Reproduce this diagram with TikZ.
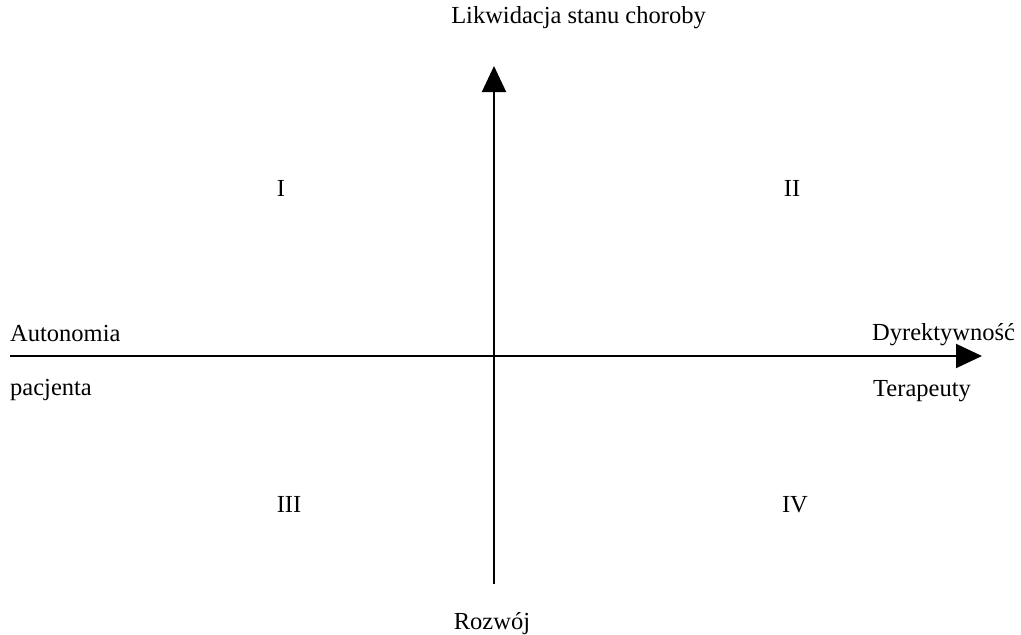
\documentclass[tikz,border=0pt]{standalone}
\usepackage{fontspec}
\setmainfont{Liberation Serif}
\usetikzlibrary{arrows.meta}
\begin{document}
\begin{tikzpicture}[x=1pt,y=-1pt,
  lbl/.style={inner sep=0pt,font=\fontsize{24.5}{29}\selectfont},
  axis/.style={line width=2pt,-{Triangle[length=26pt,width=24pt]}}]
\useasboundingbox (0,0) rectangle (1021,635);
\coordinate (left) at (10,356);
\coordinate (right) at (982,356);
\coordinate (bottom) at (494,584);
\coordinate (top) at (494,66);
\draw[axis] (left) -- (right);
\draw[axis] (bottom) -- (top);
\node[lbl,anchor=base] (title) at (578.5,23) {Likwidacja stanu choroby};
\node[lbl,anchor=base] (q1) at (281,196) {I};
\node[lbl,anchor=base] (q2) at (792,196) {II};
\node[lbl,anchor=base] (q3) at (289,512) {III};
\node[lbl,anchor=base] (q4) at (795,512) {IV};
\node[lbl,anchor=base west] (auto) at (10,341) {Autonomia};
\node[lbl,anchor=base west] (pac) at (10,395) {pacjenta};
\node[lbl,anchor=base west] (dyr) at (872,340) {Dyrektywność};
\node[lbl,anchor=base west] (ter) at (873,396) {Terapeuty};
\node[lbl,anchor=base] (roz) at (492,629) {Rozwój};
\end{tikzpicture}
\end{document}
